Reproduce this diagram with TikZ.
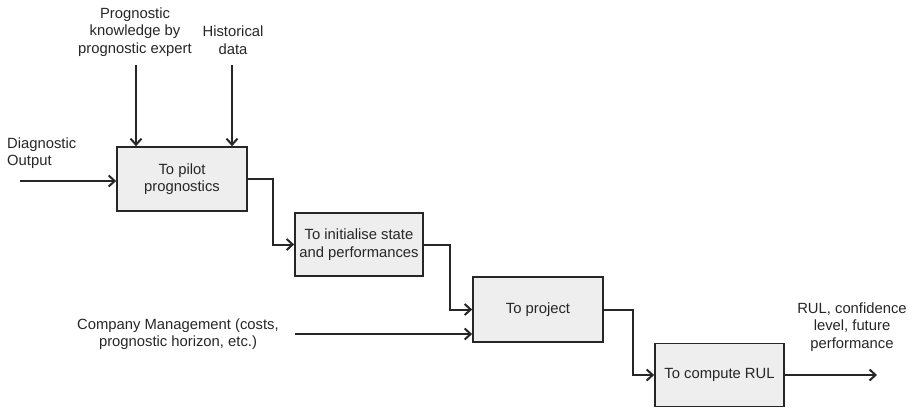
\documentclass[tikz,border=0pt]{standalone}
\usepackage{fontspec}
\setmainfont{Liberation Sans}
\usetikzlibrary{arrows.meta}
\definecolor{ink}{HTML}{262626}
\definecolor{boxfill}{HTML}{EEEEEE}
\begin{document}
\begin{tikzpicture}[x=1pt,y=-1pt,
  every node/.style={font=\fontsize{14.8}{17.5}\selectfont, text=ink},
  proc/.style={draw=ink, line width=1.7pt, fill=boxfill, align=center, inner sep=0pt},
  lbl/.style={align=center, inner sep=0pt},
  arr/.style={draw=ink, line width=2pt, -{Straight Barb[length=6pt,width=11pt,line width=2pt]}}
]
\useasboundingbox (0,0) rectangle (915,408);
% boxes
\node[proc, minimum width=130pt, minimum height=64pt] (b1) at (182,179) {To pilot\\prognostics};
\node[proc, minimum width=128pt, minimum height=63pt] (b2) at (359,244.5) {To initialise state\\and performances};
\node[proc, minimum width=130pt, minimum height=65pt] (b3) at (538,309.5) {To project};
\node[proc, minimum width=129pt, minimum height=63pt] (b4) at (719.5,375) {To compute RUL};
% labels
\node[lbl] (tk) at (135,32) {Prognostic\\knowledge by\\prognostic expert};
\node[lbl] (th) at (233,40) {Historical\\data};
\node[lbl, align=left, anchor=west] (td) at (7,153) {Diagnostic\\Output};
\node[lbl] (tc) at (178,334) {Company Management (costs,\\prognostic horizon, etc.)};
\node[lbl] (tr) at (852,327) {RUL, confidence\\level, future\\performance};
% free ends
\coordinate (sk) at (136,65);
\coordinate (sh) at (232,65);
\coordinate (sd) at (20,181);
\coordinate (sc) at (295,334);
\coordinate (eo) at (877,375);
% connectors
\draw[arr] (sk) -- (sk |- b1.north);
\draw[arr] (sh) -- (sh |- b1.north);
\draw[arr] (sd) -- (sd -| b1.west);
\draw[arr] (b1.east) -- ++(25,0) |- (b2.west);
\draw[arr] (b2.east) -- ++(26,0) |- (b3.west);
\draw[arr] (sc) -- (sc -| b3.west);
\draw[arr] (b3.east) -- ++(29,0) |- (b4.west);
\draw[arr] (b4.east) -- (eo);
\end{tikzpicture}
\end{document}
